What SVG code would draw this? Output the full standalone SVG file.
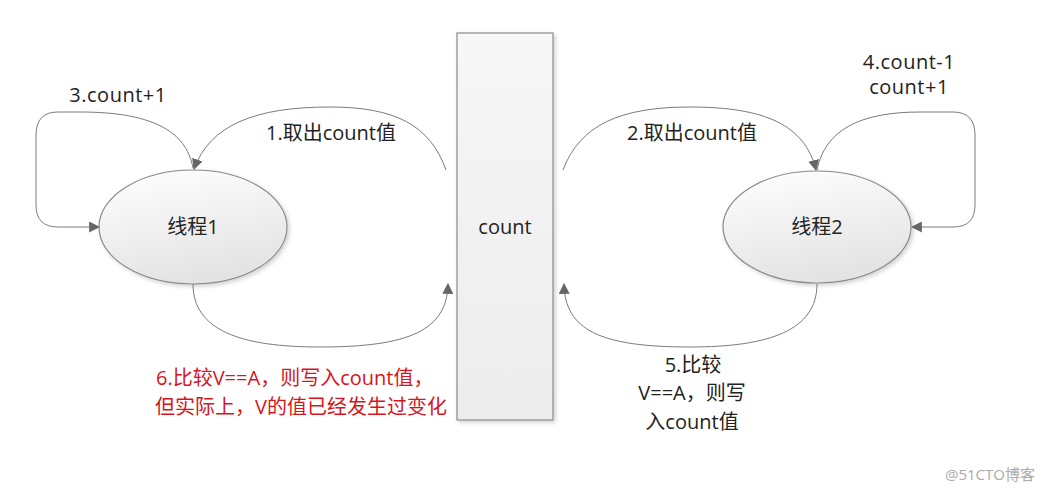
<svg xmlns="http://www.w3.org/2000/svg" width="1052" height="488" viewBox="0 0 1052 488">
<style>
text{font-family:"Open Sans","Noto Sans CJK SC",sans-serif;font-size:20px;fill:#222}
.c{text-anchor:middle}
.red{fill:#d8141c}
.conn path{fill:none;stroke:#7a7a7a;stroke-width:1;marker-end:url(#arr)}
.shape{stroke:#8a8a8a;stroke-width:1.2;filter:url(#sh)}
</style>
<defs>
<marker id="arr" viewBox="0 0 10 10" refX="9" refY="5" markerWidth="11" markerHeight="11" markerUnits="userSpaceOnUse" orient="auto">
<path d="M0,0 L10,5 L0,10 Z" fill="#666"/>
</marker>
<linearGradient id="eg" x1="0" y1="0" x2="0.3" y2="1">
<stop offset="0" stop-color="#ffffff"/>
<stop offset="1" stop-color="#e4e4e4"/>
</linearGradient>
<linearGradient id="rg" x1="0" y1="0" x2="0" y2="1">
<stop offset="0" stop-color="#f7f7f7"/>
<stop offset="1" stop-color="#ececec"/>
</linearGradient>
<filter id="sh" x="-10%" y="-10%" width="130%" height="130%">
<feDropShadow dx="2" dy="2" stdDeviation="2" flood-color="#000" flood-opacity="0.18"/>
</filter>
</defs>
<rect width="1052" height="488" fill="#fff"/>
<g id="node-count">
<rect class="shape" x="457" y="33" width="96" height="387" fill="url(#rg)" stroke="#aaa"/>
<text class="c" x="505" y="234">count</text>
</g>
<g id="node-thread1">
<ellipse class="shape" cx="193" cy="227" rx="94" ry="57" fill="url(#eg)"/>
<text class="c" x="193" y="234">线程1</text>
</g>
<g id="node-thread2">
<ellipse class="shape" cx="817" cy="227" rx="94" ry="56" fill="url(#eg)"/>
<text class="c" x="817" y="234">线程2</text>
</g>
<g id="connectors" class="conn">
<path d="M446,170 C430,125 395,107 330,107 C255,107 210,125 194,169"/>
<path d="M193,168 C186,130 150,112 80,112 L58,112 Q36,112 36,135 L36,205 Q36,227 58,227 L99,227"/>
<path d="M563,170 C580,125 620,107 690,107 C765,107 805,125 816,170"/>
<path d="M817,170 C825,130 860,112 920,112 L953,112 Q975,112 975,135 L975,205 Q975,227 953,227 L912,227"/>
<path d="M193,284 C193,330 240,347 320,347 C410,347 447,330 448,284"/>
<path d="M817,284 C817,330 770,347 690,347 C600,347 565,330 564,284"/>
</g>
<g id="labels">
<text class="c" x="118" y="102" style="letter-spacing:0.5px">3.count+1</text>
<text class="c" x="331" y="140">1.取出count值</text>
<text class="c" x="692" y="140">2.取出count值</text>
<text class="c" x="909" y="69" style="letter-spacing:0.5px">4.count-1</text>
<text class="c" x="909" y="94" style="letter-spacing:0.5px">count+1</text>
<text class="c" x="693" y="372">5.比较</text>
<text class="c" x="692" y="400">V==A，则写</text>
<text class="c" x="692" y="429">入count值</text>
<text class="red" x="156" y="385">6.比较V==A，则写入count值，</text>
<text class="red" x="155" y="414">但实际上，V的值已经发生过变化</text>
<text x="945" y="480" style="font-size:15px;fill:#aaa">@51CTO博客</text>
</g>
</svg>
